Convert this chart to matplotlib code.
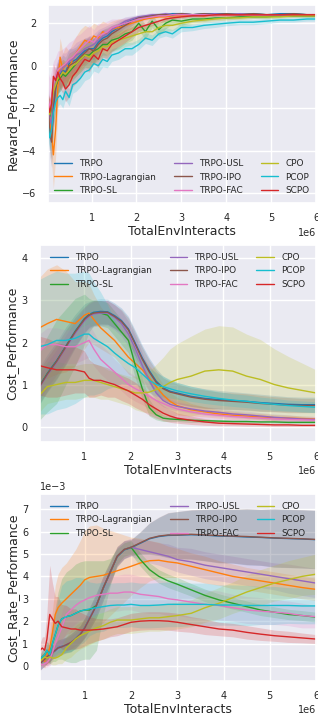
import numpy as np
import matplotlib
matplotlib.use("Agg")
import matplotlib.pyplot as plt
import seaborn as sns

names = ["TRPO", "TRPO-Lagrangian", "TRPO-SL", "TRPO-USL", "TRPO-IPO",
         "TRPO-FAC", "CPO", "PCOP", "SCPO"]
colors = ["#1f77b4", "#ff7f0e", "#2ca02c", "#9467bd", "#8c564b",
          "#e377c2", "#bcbd22", "#17becf", "#d62728"]

# ---------------- reward (x in 1e6 interacts) ----------------
x_rew = [0.03, 0.07, 0.11, 0.15, 0.2, 0.25, 0.3, 0.36, 0.42, 0.5,
         0.58, 0.66, 0.75, 0.85, 0.95, 1.05, 1.15, 1.25, 1.35, 1.45,
         1.6, 1.75, 1.9, 2.05, 2.2, 2.35, 2.5, 2.65, 2.8, 3.0,
         3.25, 3.5, 3.75, 4.0, 4.3, 4.6, 4.9, 5.2, 5.5, 5.8, 6.0]

rew_trpo = [-1.9, -3.0, -3.4, -2.1, -1.1, -0.5, -0.4, -0.2, -0.3, 0.1,
            0.2, 0.3, 0.5, 0.7, 0.8, 0.8, 1.1, 1.3, 1.4, 1.6,
            1.8, 2.0, 2.15, 2.25, 2.3, 2.35, 2.4, 2.4, 2.45, 2.45,
            2.4, 2.45, 2.45, 2.45, 2.4, 2.45, 2.4, 2.45, 2.45, 2.4, 2.4]
rew_lag = [-1.9, -2.6, -3.2, -4.2, -3.0, -1.0, 0.4, -0.2, 0.1, -0.1,
           0.3, 0.6, 0.9, 1.2, 1.1, 1.4, 1.3, 1.6, 1.5, 1.7,
           1.8, 1.9, 2.0, 2.1, 2.2, 2.25, 2.3, 2.3, 2.35, 2.35,
           2.4, 2.35, 2.4, 2.4, 2.4, 2.4, 2.4, 2.4, 2.4, 2.4, 2.4]
rew_sl = [-2.1, -2.4, -2.0, -1.4, -1.0, -0.7, -0.6, -0.4, -0.5, -0.3,
          -0.1, 0.1, 0.3, 0.5, 0.5, 0.7, 0.8, 1.0, 1.0, 1.2,
          1.3, 1.5, 1.6, 2.0, 1.6, 2.1, 1.7, 2.0, 2.15, 2.1,
          2.2, 2.2, 2.25, 2.25, 2.3, 2.3, 2.3, 2.35, 2.35, 2.35, 2.35]
rew_usl = [-1.6, -2.5, -2.8, -1.5, -0.8, -0.4, -0.3, -0.1, 0.0, 0.2,
           0.3, 0.5, 0.6, 0.8, 0.9, 1.0, 1.2, 1.4, 1.5, 1.7,
           1.9, 2.1, 2.2, 2.3, 2.35, 2.4, 2.4, 2.45, 2.4, 2.45,
           2.4, 2.4, 2.45, 2.4, 2.45, 2.4, 2.4, 2.4, 2.4, 2.4, 2.4]
rew_ipo = [-1.8, -3.2, -3.6, -2.0, -1.0, -0.6, -0.5, -0.3, -0.4, 0.0,
           0.1, 0.2, 0.4, 0.6, 0.8, 0.7, 1.0, 1.2, 1.3, 1.5,
           1.7, 1.9, 2.1, 2.25, 2.3, 2.35, 2.4, 2.4, 2.4, 2.45,
           2.4, 2.45, 2.4, 2.45, 2.4, 2.45, 2.4, 2.4, 2.45, 2.4, 2.4]
rew_fac = [-1.5, -2.0, -1.5, -0.8, -0.5, -0.2, -0.1, 0.0, 0.1, 0.3,
           0.4, 0.6, 0.8, 1.0, 1.2, 1.1, 1.4, 1.5, 1.6, 1.8,
           1.9, 2.0, 2.1, 2.2, 2.25, 2.3, 2.35, 2.35, 2.4, 2.4,
           2.4, 2.4, 2.4, 2.4, 2.4, 2.4, 2.4, 2.4, 2.4, 2.4, 2.4]
rew_cpo = [-2.0, -2.3, -1.8, -1.2, -0.9, -0.6, -0.5, -0.3, -0.4, -0.2,
           0.0, 0.1, 0.3, 0.5, 0.4, 0.6, 0.7, 0.9, 0.9, 1.1,
           1.2, 1.3, 1.4, 1.5, 1.6, 1.6, 1.8, 1.9, 1.9, 2.0,
           2.1, 2.15, 2.2, 2.25, 2.25, 2.3, 2.3, 2.3, 2.35, 2.35, 2.35]
rew_pcop = [-2.8, -3.4, -3.0, -2.2, -1.7, -1.5, -1.4, -1.6, -1.2, -1.5,
            -0.9, -0.8, -0.6, -0.3, -0.2, 0.1, 0.0, 0.3, 0.2, 0.5,
            0.6, 0.8, 0.8, 1.0, 1.3, 1.2, 1.5, 1.6, 1.5, 1.8,
            1.8, 1.9, 1.95, 2.0, 2.05, 2.05, 2.1, 2.15, 2.15, 2.2, 2.2]
rew_scpo = [-1.8, -2.2, -1.8, -0.5, -0.7, -0.3, -0.6, -0.8, -1.1, -0.9,
            -0.5, -0.3, 0.0, 0.3, 0.2, 0.5, 0.3, 0.8, 0.7, 1.0,
            1.2, 1.4, 1.6, 1.8, 1.9, 2.0, 2.1, 2.2, 2.25, 2.3,
            2.35, 2.35, 2.4, 2.4, 2.4, 2.4, 2.4, 2.4, 2.4, 2.4, 2.4]

rew_trpo_sd = [0.8, 1.0, 1.0, 0.9, 0.8, 0.8, 0.7, 0.7, 0.7, 0.7,
               0.6, 0.6, 0.6, 0.6, 0.5, 0.5, 0.5, 0.4, 0.4, 0.3,
               0.25, 0.2, 0.15, 0.12, 0.1, 0.1, 0.08, 0.08, 0.07, 0.07,
               0.06, 0.06, 0.06, 0.06, 0.06, 0.06, 0.06, 0.06, 0.06, 0.06, 0.06]
rew_lag_sd = [0.6, 1.0, 1.3, 1.6, 1.3, 1.0, 0.9, 0.8, 0.8, 0.8,
              0.8, 0.8, 0.8, 0.7, 0.7, 0.6, 0.6, 0.5, 0.5, 0.4,
              0.4, 0.3, 0.25, 0.2, 0.15, 0.12, 0.1, 0.1, 0.1, 0.08,
              0.08, 0.08, 0.07, 0.07, 0.07, 0.07, 0.07, 0.07, 0.07, 0.07, 0.07]
rew_sl_sd = [0.6, 0.8, 0.8, 0.7, 0.7, 0.6, 0.6, 0.6, 0.6, 0.6,
             0.6, 0.6, 0.6, 0.6, 0.6, 0.6, 0.5, 0.5, 0.5, 0.5,
             0.5, 0.45, 0.4, 0.35, 0.35, 0.3, 0.3, 0.25, 0.2, 0.2,
             0.15, 0.12, 0.1, 0.1, 0.1, 0.08, 0.08, 0.08, 0.08, 0.08, 0.08]
rew_usl_sd = [0.7, 0.9, 1.0, 0.9, 0.8, 0.7, 0.7, 0.7, 0.6, 0.6,
              0.6, 0.6, 0.6, 0.5, 0.5, 0.5, 0.5, 0.4, 0.4, 0.3,
              0.25, 0.2, 0.15, 0.12, 0.1, 0.1, 0.08, 0.08, 0.07, 0.07,
              0.06, 0.06, 0.06, 0.06, 0.06, 0.06, 0.06, 0.06, 0.06, 0.06, 0.06]
rew_ipo_sd = [0.8, 1.1, 1.2, 1.0, 0.8, 0.7, 0.7, 0.6, 0.6, 0.6,
              0.6, 0.6, 0.6, 0.6, 0.6, 0.6, 0.5, 0.5, 0.45, 0.4,
              0.3, 0.25, 0.2, 0.12, 0.1, 0.08, 0.08, 0.07, 0.07, 0.07,
              0.06, 0.06, 0.06, 0.06, 0.06, 0.06, 0.06, 0.06, 0.06, 0.06, 0.06]
rew_fac_sd = [1.2, 1.4, 1.3, 1.0, 0.9, 0.9, 0.8, 0.8, 0.8, 0.8,
              0.8, 0.8, 0.7, 0.7, 0.7, 0.6, 0.6, 0.5, 0.5, 0.4,
              0.3, 0.25, 0.2, 0.15, 0.12, 0.1, 0.08, 0.08, 0.07, 0.07,
              0.06, 0.06, 0.06, 0.06, 0.06, 0.06, 0.06, 0.06, 0.06, 0.06, 0.06]
rew_cpo_sd = [0.6, 0.7, 0.7, 0.6, 0.6, 0.6, 0.6, 0.6, 0.6, 0.6,
              0.6, 0.6, 0.6, 0.55, 0.55, 0.5, 0.5, 0.5, 0.5, 0.45,
              0.45, 0.4, 0.4, 0.4, 0.35, 0.35, 0.3, 0.3, 0.25, 0.2,
              0.15, 0.12, 0.1, 0.1, 0.08, 0.08, 0.08, 0.07, 0.07, 0.07, 0.07]
rew_pcop_sd = [0.7, 0.6, 0.6, 0.5, 0.5, 0.4, 0.4, 0.4, 0.4, 0.4,
               0.4, 0.4, 0.4, 0.4, 0.4, 0.35, 0.35, 0.35, 0.3, 0.3,
               0.3, 0.3, 0.3, 0.25, 0.25, 0.25, 0.2, 0.2, 0.2, 0.2,
               0.15, 0.15, 0.15, 0.12, 0.12, 0.12, 0.12, 0.1, 0.1, 0.1, 0.1]
rew_scpo_sd = [0.5, 0.6, 0.6, 0.6, 0.5, 0.5, 0.5, 0.5, 0.6, 0.6,
               0.5, 0.5, 0.5, 0.5, 0.5, 0.4, 0.4, 0.4, 0.4, 0.35,
               0.3, 0.3, 0.25, 0.2, 0.15, 0.12, 0.1, 0.1, 0.08, 0.08,
               0.07, 0.07, 0.07, 0.07, 0.07, 0.07, 0.07, 0.07, 0.07, 0.07, 0.07]

# ---------------- cost ----------------
x_cost = [0.03, 0.2, 0.4, 0.6, 0.8, 1.0, 1.1, 1.2, 1.35, 1.5,
          1.65, 1.8, 1.95, 2.1, 2.25, 2.4, 2.55, 2.7, 2.85, 3.0,
          3.3, 3.6, 3.9, 4.2, 4.5, 4.8, 5.1, 5.4, 5.7, 6.0]

cost_trpo = [0.97, 1.27, 1.57, 1.92, 2.27, 2.57, 2.67, 2.72, 2.74, 2.73,
             2.64, 2.52, 2.32, 1.98, 1.63, 1.33, 1.08, 0.92, 0.84, 0.8,
             0.72, 0.67, 0.64, 0.62, 0.6, 0.57, 0.55, 0.53, 0.52, 0.52]
cost_lag = [2.35, 2.45, 2.55, 2.5, 2.45, 2.65, 2.7, 2.55, 2.35, 2.2,
            2.05, 1.85, 1.65, 1.5, 1.35, 1.15, 0.95, 0.75, 0.6, 0.5,
            0.4, 0.35, 0.3, 0.27, 0.25, 0.23, 0.21, 0.2, 0.19, 0.18]
cost_sl = [0.95, 1.25, 1.55, 1.9, 2.25, 2.55, 2.65, 2.7, 2.7, 2.65,
           2.45, 2.25, 2.05, 1.45, 0.9, 0.45, 0.28, 0.2, 0.18, 0.17,
           0.15, 0.14, 0.13, 0.12, 0.12, 0.11, 0.11, 0.1, 0.1, 0.1]
cost_usl = [0.93, 1.23, 1.53, 1.88, 2.22, 2.52, 2.62, 2.68, 2.7, 2.7,
            2.6, 2.45, 2.2, 1.85, 1.45, 1.1, 0.8, 0.62, 0.53, 0.48,
            0.42, 0.37, 0.34, 0.3, 0.28, 0.25, 0.22, 0.2, 0.18, 0.17]
cost_ipo = [0.95, 1.25, 1.55, 1.9, 2.25, 2.55, 2.65, 2.7, 2.72, 2.72,
            2.62, 2.5, 2.3, 1.95, 1.6, 1.3, 1.05, 0.9, 0.82, 0.78,
            0.7, 0.65, 0.62, 0.6, 0.58, 0.55, 0.53, 0.51, 0.5, 0.5]
cost_fac = [1.8, 1.95, 1.95, 1.9, 1.9, 2.0, 2.05, 1.85, 1.6, 1.45,
            1.3, 1.15, 1.0, 0.9, 0.82, 0.72, 0.62, 0.55, 0.48, 0.42,
            0.35, 0.3, 0.27, 0.24, 0.22, 0.2, 0.18, 0.17, 0.16, 0.15]
cost_cpo = [0.75, 0.95, 1.0, 1.05, 1.05, 1.1, 1.1, 1.1, 1.05, 1.0,
            0.95, 0.9, 0.85, 0.8, 0.8, 0.82, 0.88, 0.95, 1.05, 1.12,
            1.2, 1.32, 1.35, 1.32, 1.2, 1.12, 1.0, 0.92, 0.86, 0.8]
cost_pcop = [1.9, 1.95, 2.05, 2.05, 2.1, 2.2, 2.2, 2.1, 2.0, 1.9,
             1.75, 1.62, 1.5, 1.4, 1.25, 1.1, 1.0, 0.95, 0.9, 0.85,
             0.78, 0.72, 0.67, 0.63, 0.6, 0.56, 0.53, 0.5, 0.48, 0.46]
cost_scpo = [1.45, 1.4, 1.35, 1.35, 1.35, 1.3, 1.15, 1.1, 1.1, 1.05,
             1.0, 0.92, 0.85, 0.75, 0.65, 0.52, 0.42, 0.32, 0.25, 0.2,
             0.15, 0.11, 0.08, 0.07, 0.06, 0.05, 0.04, 0.04, 0.03, 0.03]

cost_trpo_sd = [0.45, 0.45, 0.45, 0.45, 0.4, 0.35, 0.3, 0.3, 0.3, 0.3,
                0.3, 0.3, 0.3, 0.3, 0.3, 0.3, 0.3, 0.28, 0.26, 0.25,
                0.24, 0.23, 0.22, 0.21, 0.2, 0.2, 0.19, 0.18, 0.18, 0.18]
cost_lag_sd = [1.2, 1.3, 1.3, 1.2, 1.0, 0.8, 0.7, 0.6, 0.5, 0.45,
               0.4, 0.4, 0.4, 0.35, 0.3, 0.3, 0.3, 0.25, 0.2, 0.2,
               0.15, 0.12, 0.1, 0.1, 0.08, 0.08, 0.07, 0.07, 0.06, 0.06]
cost_sl_sd = [0.8, 0.9, 1.0, 0.9, 0.8, 0.6, 0.4, 0.3, 0.3, 0.3,
              0.3, 0.3, 0.3, 0.3, 0.25, 0.2, 0.12, 0.08, 0.06, 0.05,
              0.05, 0.04, 0.04, 0.04, 0.04, 0.03, 0.03, 0.03, 0.03, 0.03]
cost_usl_sd = [0.3, 0.3, 0.3, 0.3, 0.3, 0.3, 0.3, 0.3, 0.3, 0.3,
               0.3, 0.3, 0.3, 0.3, 0.3, 0.25, 0.2, 0.15, 0.12, 0.1,
               0.1, 0.1, 0.1, 0.09, 0.09, 0.08, 0.08, 0.08, 0.07, 0.07]
cost_ipo_sd = [0.4, 0.4, 0.4, 0.4, 0.35, 0.3, 0.3, 0.3, 0.28, 0.28,
               0.28, 0.28, 0.28, 0.28, 0.28, 0.28, 0.28, 0.26, 0.25, 0.24,
               0.22, 0.22, 0.2, 0.2, 0.2, 0.19, 0.18, 0.18, 0.17, 0.17]
cost_fac_sd = [0.4, 0.4, 0.4, 0.4, 0.4, 0.4, 0.4, 0.4, 0.35, 0.35,
               0.3, 0.3, 0.3, 0.3, 0.3, 0.3, 0.28, 0.25, 0.22, 0.2,
               0.15, 0.12, 0.1, 0.1, 0.08, 0.08, 0.07, 0.07, 0.06, 0.06]
cost_cpo_sd = [0.4, 0.4, 0.4, 0.4, 0.4, 0.4, 0.4, 0.4, 0.4, 0.35,
               0.35, 0.35, 0.35, 0.4, 0.45, 0.5, 0.6, 0.7, 0.8, 0.85,
               0.95, 1.0, 1.05, 1.05, 1.0, 0.95, 0.85, 0.75, 0.65, 0.55]
cost_pcop_sd = [1.6, 1.65, 1.65, 1.6, 1.55, 1.5, 1.45, 1.35, 1.2, 1.0,
                0.8, 0.6, 0.5, 0.4, 0.35, 0.3, 0.28, 0.25, 0.22, 0.2,
                0.18, 0.17, 0.16, 0.15, 0.15, 0.14, 0.14, 0.13, 0.13, 0.13]
cost_scpo_sd = [0.7, 0.7, 0.65, 0.6, 0.55, 0.5, 0.45, 0.4, 0.35, 0.35,
                0.3, 0.3, 0.3, 0.3, 0.28, 0.25, 0.22, 0.18, 0.15, 0.12,
                0.1, 0.08, 0.06, 0.05, 0.05, 0.04, 0.04, 0.04, 0.03, 0.03]

# ---------------- cost rate (units of 1e-3) ----------------
x_rate = [0.03, 0.08, 0.13, 0.18, 0.24, 0.3, 0.36, 0.42, 0.5, 0.6,
          0.7, 0.8, 0.9, 1.0, 1.1, 1.25, 1.4, 1.55, 1.7, 1.85,
          2.0, 2.2, 2.4, 2.6, 2.8, 3.0, 3.3, 3.6, 3.9, 4.2,
          4.5, 4.8, 5.1, 5.4, 5.7, 6.0]

rate_trpo = [0.12, 0.22, 0.28, 0.42, 0.48, 0.62, 0.68, 0.82, 0.87, 0.93,
             1.02, 1.22, 1.42, 1.72, 2.12, 2.72, 3.48, 4.18, 4.88, 5.18,
             5.28, 5.48, 5.68, 5.78, 5.83, 5.84, 5.86, 5.84, 5.8, 5.79,
             5.76, 5.74, 5.71, 5.69, 5.67, 5.64]
rate_lag = [0.2, 0.3, 0.2, 0.5, 0.8, 1.5, 2.3, 2.6, 2.8, 3.0,
            3.2, 3.4, 3.6, 3.85, 3.95, 4.0, 4.05, 4.15, 4.25, 4.35,
            4.45, 4.6, 4.7, 4.72, 4.65, 4.6, 4.45, 4.3, 4.15, 4.0,
            3.9, 3.8, 3.7, 3.6, 3.5, 3.42]
rate_sl = [0.3, 0.4, 0.5, 0.7, 0.5, 1.0, 1.4, 1.8, 2.1, 2.2,
           2.25, 2.35, 2.45, 2.5, 2.5, 2.7, 3.5, 4.2, 4.9, 5.2,
           5.3, 4.75, 4.3, 4.0, 3.8, 3.65, 3.4, 3.15, 2.95, 2.8,
           2.65, 2.5, 2.4, 2.3, 2.25, 2.18]
rate_usl = [0.1, 0.2, 0.3, 0.4, 0.5, 0.6, 0.7, 0.8, 0.85, 0.95,
            1.05, 1.2, 1.4, 1.7, 2.1, 2.7, 3.5, 4.2, 4.9, 5.2,
            5.3, 5.2, 5.1, 5.0, 4.9, 4.75, 4.65, 4.5, 4.4, 4.3,
            4.2, 4.1, 4.0, 3.9, 3.8, 3.7]
rate_ipo = [0.1, 0.2, 0.3, 0.4, 0.5, 0.6, 0.7, 0.8, 0.85, 0.95,
            1.05, 1.2, 1.4, 1.7, 2.1, 2.7, 3.5, 4.2, 4.9, 5.2,
            5.3, 5.5, 5.7, 5.8, 5.85, 5.85, 5.88, 5.85, 5.82, 5.8,
            5.78, 5.75, 5.72, 5.7, 5.68, 5.65]
rate_fac = [0.1, 0.05, 0.1, 0.15, 0.3, 0.6, 1.0, 1.3, 1.7, 2.3,
            2.5, 2.7, 2.85, 2.95, 3.05, 3.15, 3.2, 3.25, 3.25, 3.3,
            3.3, 3.2, 3.15, 3.1, 3.0, 2.95, 2.85, 2.75, 2.7, 2.6,
            2.5, 2.45, 2.4, 2.35, 2.25, 2.2]
rate_cpo = [0.2, 0.3, 0.4, 0.35, 0.4, 0.35, 0.35, 0.4, 0.5, 0.8,
            1.0, 1.2, 1.35, 1.45, 1.55, 1.7, 1.8, 1.95, 2.05, 2.05,
            2.05, 2.1, 2.15, 2.15, 2.2, 2.25, 2.35, 2.6, 2.8, 3.05,
            3.3, 3.5, 3.7, 3.85, 4.0, 4.1]
rate_pcop = [0.3, 0.4, 0.5, 0.7, 0.5, 1.0, 1.4, 1.8, 2.1, 2.2,
             2.25, 2.35, 2.45, 2.5, 2.55, 2.6, 2.65, 2.7, 2.72, 2.72,
             2.75, 2.7, 2.7, 2.72, 2.75, 2.75, 2.75, 2.75, 2.72, 2.72,
             2.7, 2.7, 2.7, 2.7, 2.68, 2.68]
rate_scpo = [0.7, 0.8, 0.7, 1.2, 2.3, 2.1, 1.9, 2.0, 1.75, 1.7,
             1.65, 1.65, 1.6, 1.6, 1.6, 1.62, 1.65, 1.7, 1.75, 1.85,
             1.95, 2.0, 2.02, 2.02, 2.0, 1.95, 1.85, 1.75, 1.65, 1.6,
             1.5, 1.42, 1.35, 1.3, 1.25, 1.2]

rate_trpo_sd = [0.3, 0.3, 0.3, 0.3, 0.3, 0.3, 0.3, 0.35, 0.35, 0.35,
                0.4, 0.4, 0.4, 0.45, 0.5, 0.55, 0.55, 0.5, 0.45, 0.4,
                0.35, 0.5, 0.7, 0.85, 1.0, 1.05, 1.1, 1.15, 1.2, 1.2,
                1.25, 1.25, 1.3, 1.3, 1.3, 1.3]
rate_lag_sd = [0.2, 0.3, 0.3, 0.4, 0.6, 1.0, 1.3, 1.5, 1.6, 1.6,
               1.7, 1.8, 2.0, 2.2, 2.3, 2.3, 2.1, 1.9, 1.7, 1.5,
               1.3, 1.1, 0.9, 0.8, 0.7, 0.65, 0.6, 0.6, 0.55, 0.55,
               0.5, 0.5, 0.5, 0.5, 0.5, 0.5]
rate_sl_sd = [0.2, 0.3, 0.3, 0.4, 0.4, 0.8, 1.2, 1.5, 1.8, 2.0,
              2.1, 2.2, 2.2, 2.2, 2.2, 2.0, 1.2, 0.6, 0.35, 0.3,
              0.3, 0.3, 0.3, 0.3, 0.3, 0.3, 0.28, 0.28, 0.27, 0.26,
              0.25, 0.25, 0.24, 0.23, 0.22, 0.22]
rate_usl_sd = [0.3, 0.3, 0.3, 0.3, 0.3, 0.3, 0.3, 0.3, 0.3, 0.3,
               0.3, 0.3, 0.35, 0.4, 0.4, 0.4, 0.4, 0.4, 0.4, 0.4,
               0.4, 0.45, 0.5, 0.5, 0.55, 0.55, 0.6, 0.6, 0.6, 0.6,
               0.6, 0.6, 0.6, 0.65, 0.65, 0.65]
rate_ipo_sd = [0.3, 0.3, 0.3, 0.3, 0.3, 0.3, 0.3, 0.35, 0.35, 0.35,
               0.4, 0.4, 0.4, 0.45, 0.5, 0.55, 0.55, 0.5, 0.45, 0.4,
               0.35, 0.5, 0.7, 0.85, 1.0, 1.05, 1.1, 1.15, 1.2, 1.2,
               1.25, 1.25, 1.3, 1.3, 1.3, 1.3]
rate_fac_sd = [0.1, 0.1, 0.15, 0.2, 0.3, 0.4, 0.5, 0.6, 0.7, 0.8,
               0.8, 0.8, 0.8, 0.8, 0.8, 0.8, 0.8, 0.8, 0.8, 0.8,
               0.8, 0.8, 0.8, 0.75, 0.75, 0.7, 0.7, 0.65, 0.65, 0.6,
               0.6, 0.6, 0.55, 0.55, 0.55, 0.5]
rate_cpo_sd = [0.2, 0.2, 0.2, 0.2, 0.3, 0.3, 0.3, 0.3, 0.4, 0.5,
               0.6, 0.6, 0.6, 0.6, 0.6, 0.6, 0.6, 0.6, 0.6, 0.6,
               0.6, 0.6, 0.6, 0.6, 0.6, 0.6, 0.6, 0.65, 0.7, 0.7,
               0.75, 0.8, 0.8, 0.85, 0.85, 0.9]
rate_pcop_sd = [0.2, 0.3, 0.3, 0.4, 0.4, 0.6, 0.9, 1.2, 1.5, 1.6,
                1.6, 1.6, 1.5, 1.4, 1.2, 1.1, 1.1, 1.0, 1.0, 1.0,
                1.0, 1.0, 1.0, 1.0, 1.0, 1.0, 0.95, 0.95, 0.9, 0.9,
                0.9, 0.85, 0.85, 0.8, 0.8, 0.8]
rate_scpo_sd = [0.3, 0.5, 0.6, 1.2, 2.2, 1.6, 1.2, 1.1, 1.0, 1.0,
                0.9, 0.9, 0.8, 0.7, 0.6, 0.5, 0.45, 0.4, 0.4, 0.4,
                0.4, 0.4, 0.4, 0.4, 0.4, 0.4, 0.35, 0.35, 0.3, 0.3,
                0.3, 0.28, 0.25, 0.25, 0.22, 0.2]

reward = [rew_trpo, rew_lag, rew_sl, rew_usl, rew_ipo, rew_fac, rew_cpo, rew_pcop, rew_scpo]
reward_sd = [rew_trpo_sd, rew_lag_sd, rew_sl_sd, rew_usl_sd, rew_ipo_sd,
             rew_fac_sd, rew_cpo_sd, rew_pcop_sd, rew_scpo_sd]
cost = [cost_trpo, cost_lag, cost_sl, cost_usl, cost_ipo, cost_fac, cost_cpo, cost_pcop, cost_scpo]
cost_sd = [cost_trpo_sd, cost_lag_sd, cost_sl_sd, cost_usl_sd, cost_ipo_sd,
           cost_fac_sd, cost_cpo_sd, cost_pcop_sd, cost_scpo_sd]
rate = [rate_trpo, rate_lag, rate_sl, rate_usl, rate_ipo, rate_fac, rate_cpo, rate_pcop, rate_scpo]
rate_sd = [rate_trpo_sd, rate_lag_sd, rate_sl_sd, rate_usl_sd, rate_ipo_sd,
           rate_fac_sd, rate_cpo_sd, rate_pcop_sd, rate_scpo_sd]

sns.set_theme(style="darkgrid")
plt.rcParams["xtick.labelsize"] = 7
plt.rcParams["ytick.labelsize"] = 7
plt.rcParams["xtick.major.pad"] = 1.5
plt.rcParams["ytick.major.pad"] = 2.5
plt.rcParams["axes.labelsize"] = 9
plt.rcParams["legend.fontsize"] = 6.4


def draw(ax, x, means, sds, scale=1.0):
    xs = np.array(x) * 1e6
    for name, c, m, s in zip(names, colors, means, sds):
        m = np.array(m) * scale
        s = np.array(s) * scale
        ax.fill_between(xs, m - s, m + s, color=c, alpha=0.2, lw=0)
        ax.plot(xs, m, color=c, lw=1.0, label=name)
    ax.set_xlim(xs[0], xs[-1])
    ax.set_xlabel("TotalEnvInteracts", labelpad=1)


W, H = 318.0, 715.0
fig = plt.figure(figsize=(W / 100, H / 100), dpi=100)

ax1 = fig.add_axes([48 / W, 1 - 203 / H, 268 / W, 198 / H])
draw(ax1, x_rew, reward, reward_sd)
ax1.set_ylim(-6.47, 2.86)
ax1.set_ylabel("Reward_Performance", labelpad=2)
ax1.legend(loc="lower center", ncol=3, frameon=False)

ax2 = fig.add_axes([39.5 / W, 1 - 441.7 / H, 276.5 / W, 196.7 / H])
draw(ax2, x_cost, cost, cost_sd)
ax2.set_ylim(-0.36, 4.32)
ax2.set_ylabel("Cost_Performance", labelpad=2)
ax2.legend(loc="upper center", ncol=3, frameon=False)

ax3 = fig.add_axes([40 / W, 1 - 680.7 / H, 276 / W, 186.7 / H])
draw(ax3, x_rate, rate, rate_sd, scale=1e-3)
ax3.set_ylim(-0.66e-3, 7.68e-3)
ax3.ticklabel_format(axis="y", style="sci", scilimits=(0, 0))
ax3.set_ylabel("Cost_Rate_Performance", labelpad=2)
ax3.legend(loc="upper center", ncol=3, frameon=False)

fig.savefig("out.png", dpi=100)
